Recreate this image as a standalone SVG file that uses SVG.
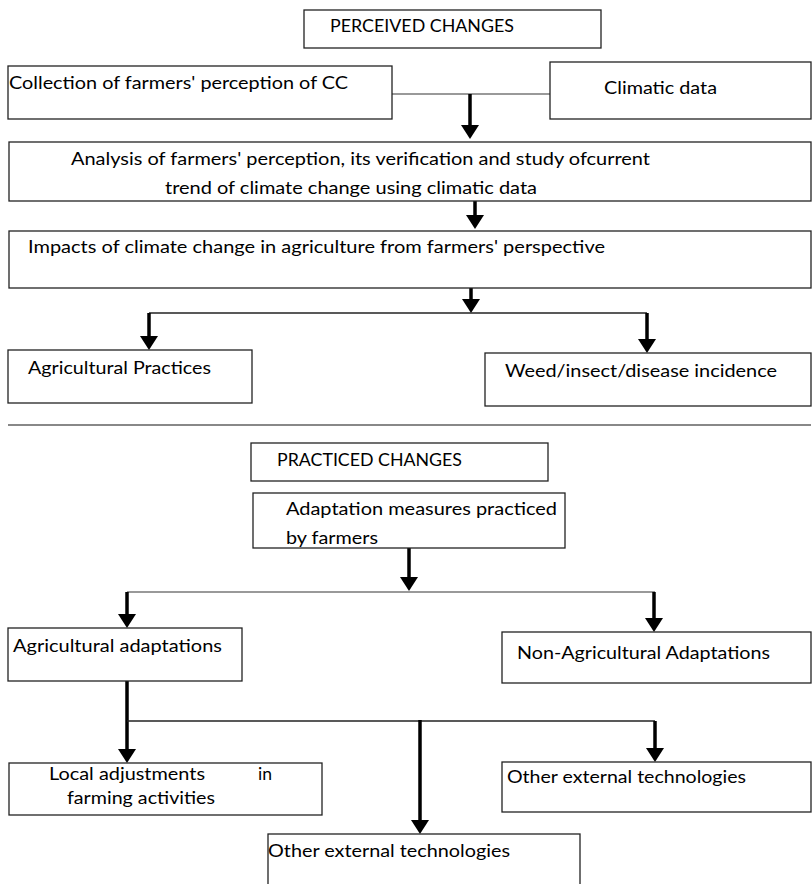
<svg xmlns="http://www.w3.org/2000/svg" width="812" height="884" viewBox="0 0 812 884">
<style>
.box{fill:#fff;stroke:#222;stroke-width:1.3}
.t{font-family:Lato,"Liberation Sans",sans-serif;font-size:18.2px;fill:#000}
.shaft{stroke:#000;stroke-width:3.5;fill:none}
.thin{stroke:#222;stroke-width:1.5;fill:none}
.gray{stroke:#777;stroke-width:1.5;fill:none}
.sep{stroke:#888;stroke-width:2;fill:none}
</style>
<defs>
<marker id="ah" viewBox="0 0 14 18" refX="6" refY="9" markerWidth="14" markerHeight="18" markerUnits="userSpaceOnUse" orient="auto">
<path d="M0,0 L14,9 L0,18 Z" fill="#000"/>
</marker>
</defs>
<rect width="812" height="884" fill="#fff"/>

<g id="connectors">
<line class="gray" x1="392" y1="94" x2="550" y2="94"/>
<line class="shaft" x1="470" y1="94" x2="470" y2="131" marker-end="url(#ah)"/>
<line class="shaft" x1="475" y1="201" x2="475" y2="221" marker-end="url(#ah)"/>
<line class="shaft" x1="471" y1="288" x2="471" y2="305" marker-end="url(#ah)"/>
<line class="thin" x1="149" y1="313" x2="647" y2="313"/>
<line class="shaft" x1="149" y1="313" x2="149" y2="342" marker-end="url(#ah)"/>
<line class="shaft" x1="647" y1="313" x2="647" y2="345" marker-end="url(#ah)"/>
<line class="sep" x1="8" y1="425" x2="811" y2="425"/>
<line class="shaft" x1="409" y1="548" x2="409" y2="583" marker-end="url(#ah)"/>
<line class="gray" x1="127" y1="592" x2="655" y2="592"/>
<line class="shaft" x1="127" y1="592" x2="127" y2="620" marker-end="url(#ah)"/>
<line class="shaft" x1="654" y1="592" x2="654" y2="624" marker-end="url(#ah)"/>
<line class="shaft" x1="127" y1="681" x2="127" y2="755" marker-end="url(#ah)"/>
<line class="thin" x1="127" y1="721" x2="655" y2="721"/>
<line class="shaft" x1="420" y1="720" x2="420" y2="826" marker-end="url(#ah)"/>
<line class="shaft" x1="655" y1="721" x2="655" y2="754" marker-end="url(#ah)"/>
</g>

<g id="perceived">
<rect class="box" x="304" y="10" width="297" height="38"/>
<text class="t" x="330" y="32" textLength="184" lengthAdjust="spacingAndGlyphs">PERCEIVED CHANGES</text>
</g>
<g id="collection">
<rect class="box" x="8" y="66" width="384" height="53"/>
<text class="t" x="9" y="89" textLength="339" lengthAdjust="spacingAndGlyphs">Collection of farmers' perception of CC</text>
</g>
<g id="climatic">
<rect class="box" x="550" y="62" width="261" height="57"/>
<text class="t" x="604" y="94" textLength="113" lengthAdjust="spacingAndGlyphs">Climatic data</text>
</g>
<g id="analysis">
<rect class="box" x="9" y="142" width="802" height="59"/>
<text class="t" x="71" y="165" textLength="579" lengthAdjust="spacingAndGlyphs">Analysis of farmers' perception, its verification and study ofcurrent</text>
<text class="t" x="165" y="194" textLength="372" lengthAdjust="spacingAndGlyphs">trend of climate change using climatic data</text>
</g>
<g id="impacts">
<rect class="box" x="9" y="231" width="802" height="57"/>
<text class="t" x="28" y="253" textLength="577" lengthAdjust="spacingAndGlyphs">Impacts of climate change in agriculture from farmers' perspective</text>
</g>
<g id="agri-practices">
<rect class="box" x="8" y="350" width="244" height="53"/>
<text class="t" x="28" y="374" textLength="183" lengthAdjust="spacingAndGlyphs">Agricultural Practices</text>
</g>
<g id="weed">
<rect class="box" x="485" y="353" width="326" height="53"/>
<text class="t" x="505" y="377" textLength="272" lengthAdjust="spacingAndGlyphs">Weed/insect/disease incidence</text>
</g>
<g id="practiced">
<rect class="box" x="251" y="443" width="297" height="38"/>
<text class="t" x="277" y="466" textLength="185" lengthAdjust="spacingAndGlyphs">PRACTICED CHANGES</text>
</g>
<g id="adaptation">
<rect class="box" x="253" y="493" width="312" height="55"/>
<text class="t" x="286" y="515" textLength="271" lengthAdjust="spacingAndGlyphs">Adaptation measures practiced</text>
<text class="t" x="286" y="544" textLength="92" lengthAdjust="spacingAndGlyphs">by farmers</text>
</g>
<g id="agri-adaptations">
<rect class="box" x="8" y="628" width="234" height="53"/>
<text class="t" x="13" y="652" textLength="209" lengthAdjust="spacingAndGlyphs">Agricultural adaptations</text>
</g>
<g id="non-agri">
<rect class="box" x="502" y="632" width="309" height="51"/>
<text class="t" x="517" y="659" textLength="253" lengthAdjust="spacingAndGlyphs">Non-Agricultural Adaptations</text>
</g>
<g id="local">
<rect class="box" x="9" y="763" width="313" height="52"/>
<text class="t" x="49" y="780" textLength="156" lengthAdjust="spacingAndGlyphs">Local adjustments</text>
<text class="t" x="258" y="780" textLength="14" lengthAdjust="spacingAndGlyphs">in</text>
<text class="t" x="67" y="804" textLength="148" lengthAdjust="spacingAndGlyphs">farming activities</text>
</g>
<g id="other-right">
<rect class="box" x="502" y="762" width="309" height="50"/>
<text class="t" x="507" y="783" textLength="239" lengthAdjust="spacingAndGlyphs">Other external technologies</text>
</g>
<g id="other-bottom">
<rect class="box" x="268" y="834" width="312" height="60"/>
<text class="t" x="268" y="857" textLength="242" lengthAdjust="spacingAndGlyphs">Other external technologies</text>
</g>
</svg>
